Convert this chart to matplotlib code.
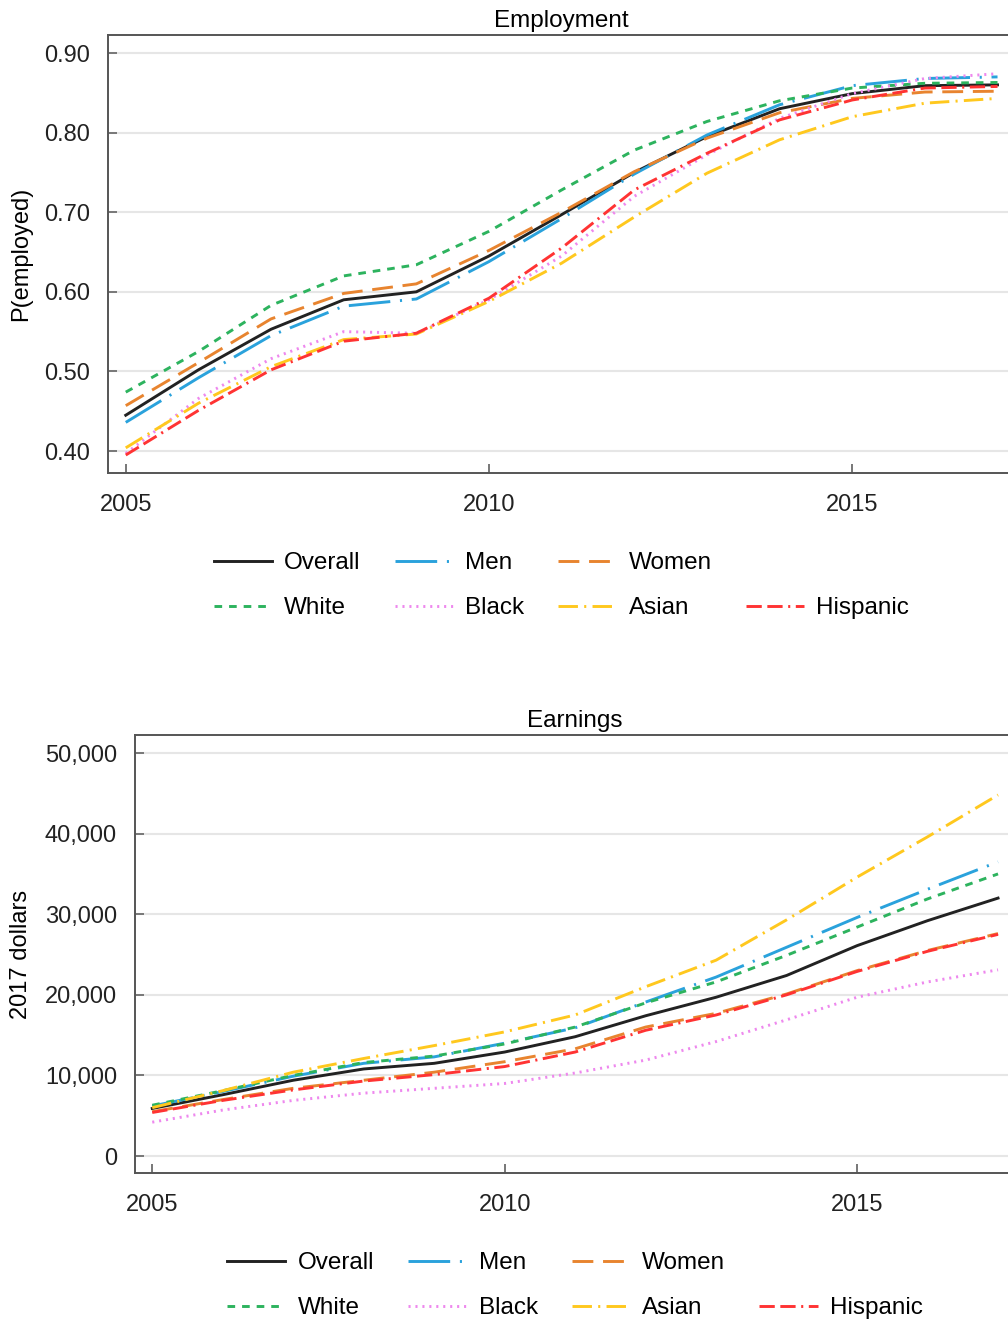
import matplotlib
matplotlib.use('Agg')
import matplotlib.pyplot as plt
from matplotlib.lines import Line2D
from matplotlib.ticker import FuncFormatter

plt.rcParams['font.family'] = ['Liberation Sans', 'DejaVu Sans']
plt.rcParams['lines.scale_dashes'] = False

years = list(range(2005, 2018))

# employment probabilities
emp_overall = [0.445, 0.502, 0.553, 0.590, 0.600, 0.645, 0.697, 0.750, 0.795, 0.830, 0.849, 0.859, 0.860]
emp_men = [0.436, 0.492, 0.545, 0.582, 0.591, 0.638, 0.692, 0.748, 0.797, 0.835, 0.859, 0.868, 0.870]
emp_women = [0.457, 0.511, 0.566, 0.598, 0.610, 0.652, 0.700, 0.751, 0.793, 0.825, 0.843, 0.851, 0.852]
emp_white = [0.474, 0.525, 0.583, 0.620, 0.634, 0.676, 0.728, 0.778, 0.814, 0.840, 0.856, 0.862, 0.863]
emp_black = [0.397, 0.466, 0.516, 0.550, 0.548, 0.590, 0.645, 0.720, 0.772, 0.818, 0.849, 0.868, 0.874]
emp_asian = [0.404, 0.460, 0.506, 0.540, 0.547, 0.588, 0.636, 0.694, 0.749, 0.791, 0.820, 0.837, 0.843]
emp_hispanic = [0.395, 0.451, 0.502, 0.538, 0.548, 0.592, 0.655, 0.728, 0.774, 0.816, 0.841, 0.856, 0.858]

# earnings, 2017 dollars
ern_overall = [5900, 7600, 9400, 10800, 11500, 12900, 14800, 17400, 19700, 22400, 26100, 29200, 32000]
ern_men = [6200, 8000, 9900, 11500, 12300, 14000, 15900, 19100, 22200, 25900, 29600, 33100, 36500]
ern_women = [5500, 7000, 8400, 9400, 10400, 11700, 13300, 16000, 17700, 20100, 23000, 25500, 27600]
ern_white = [6300, 8100, 10000, 11600, 12400, 13900, 16000, 19000, 21600, 24900, 28400, 31900, 35000]
ern_black = [4200, 5700, 6900, 7800, 8400, 9000, 10300, 11900, 14200, 16900, 19700, 21600, 23100]
ern_asian = [6000, 8100, 10400, 12100, 13700, 15400, 17500, 21000, 24300, 29300, 34600, 39600, 44800]
ern_hispanic = [5400, 6900, 8200, 9300, 10100, 11100, 12900, 15600, 17500, 20000, 22900, 25400, 27500]

labels = ['Overall', 'Men', 'Women', 'White', 'Black', 'Asian', 'Hispanic']
colors = ['#222222', '#2aa2dc', '#e8842f', '#2db35e', '#ee88ee', '#ffc81e', '#ff3333']
dashes = [None, (30, 7, 1.5, 7), (15, 7), (5.5, 5), (1.5, 3.5), (14, 4.5, 1.5, 4.5), (11, 4, 11, 4, 1.5, 4)]

fig = plt.figure(figsize=(10.08, 13.22), dpi=100)
ax1 = fig.add_axes([0.1071, 0.6422, 0.8998, 0.3313])
ax2 = fig.add_axes([0.1339, 0.1127, 0.8730, 0.3313])


def draw(ax, series, title, ylabel, ylim, yticks, fmt, labx):
    handles = []
    for vals, lab, c, d in zip(series, labels, colors, dashes):
        ln, = ax.plot(years, vals, color=c, lw=2.1, label=lab)
        if d is not None:
            ln.set_dashes(d)
        handles.append(ln)
    ax.set_xlim(2004.755, 2017.24)
    ax.set_ylim(*ylim)
    ax.set_xticks([2005, 2010, 2015])
    ax.set_yticks(yticks)
    ax.yaxis.set_major_formatter(FuncFormatter(fmt))
    ax.grid(axis='y', color='#e6e6e6', lw=1.5)
    ax.set_axisbelow(True)
    for s in ax.spines.values():
        s.set_color('#555555')
        s.set_linewidth(1.4)
    ax.spines['right'].set_visible(False)
    ax.tick_params(direction='in', length=6.5, width=1.4, color='#777777',
                   labelsize=17, labelcolor='#222222')
    ax.tick_params(axis='y', pad=13)
    ax.tick_params(axis='x', pad=15)
    ax.set_title(title, fontsize=17.5, pad=6)
    ax.set_ylabel(ylabel, fontsize=17)
    ax.yaxis.set_label_coords(labx, 0.5)
    blank = Line2D([], [], color='none')
    order = [handles[0], handles[3], handles[1], handles[4],
             handles[2], handles[5], blank, handles[6]]
    names = ['Overall', 'White', 'Men', 'Black', 'Women', 'Asian', '', 'Hispanic']
    ax.legend(order, names, ncol=4, loc='center', bbox_to_anchor=(0.5, -0.257),
              frameon=False, fontsize=17.5, handlelength=2.4, handletextpad=0.5,
              columnspacing=1.4, labelspacing=0.95)


draw(ax1, [emp_overall, emp_men, emp_women, emp_white, emp_black, emp_asian, emp_hispanic],
     'Employment', 'P(employed)', (0.3724, 0.9226),
     [0.4, 0.5, 0.6, 0.7, 0.8, 0.9], lambda v, p: '%.2f' % v, -0.084)
draw(ax2, [ern_overall, ern_men, ern_women, ern_white, ern_black, ern_asian, ern_hispanic],
     'Earnings', '2017 dollars', (-2109, 52233),
     [0, 10000, 20000, 30000, 40000, 50000], lambda v, p: '{:,.0f}'.format(v), -0.117)

fig.savefig('out.png', dpi=100)
